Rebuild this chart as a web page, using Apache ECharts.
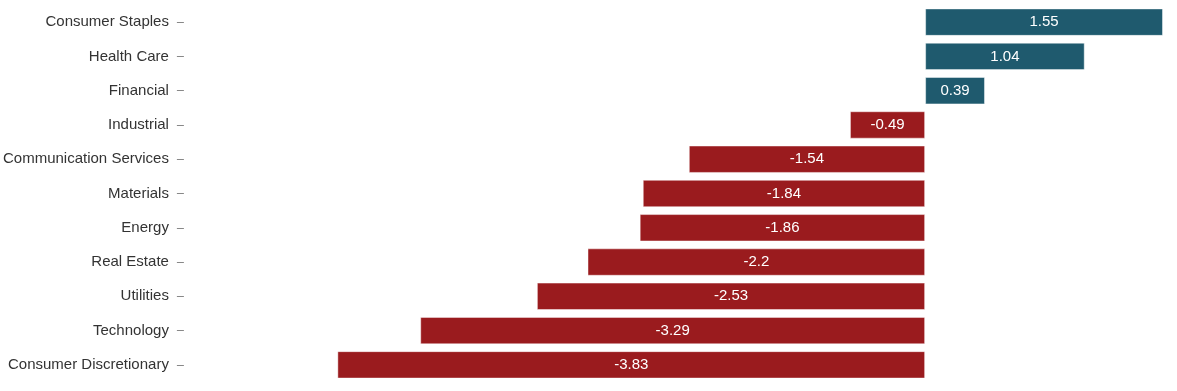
<!DOCTYPE html>
<html><head><meta charset="utf-8">
<script src="https://cdn.jsdelivr.net/npm/echarts@6/dist/echarts.min.js"></script>
<style>html,body{margin:0;padding:0;background:#fff}#c{width:1177px;height:391px}</style>
</head><body><div id="c"></div>
<script>
const categories = ["Consumer Staples","Health Care","Financial","Industrial","Communication Services","Materials","Energy","Real Estate","Utilities","Technology","Consumer Discretionary"];
const values = [1.55,1.04,0.39,-0.49,-1.54,-1.84,-1.86,-2.2,-2.53,-3.29,-3.83];
const posColor = "#1f5a6e", negColor = "#9a1b1e";
const chart = echarts.init(document.getElementById('c'));
chart.setOption({
  animation:false,
  grid:{left:182,right:14,top:5,bottom:9,containLabel:false},
  xAxis:{type:'value',min:-4.83,max:1.55,show:false},
  yAxis:{type:'category',data:categories,inverse:true,
    axisLine:{show:false,onZero:false},
    axisTick:{show:true,alignWithLabel:true,length:7,lineStyle:{color:'#888'}},
    axisLabel:{color:'#333',fontSize:15,fontFamily:'Liberation Sans, Arial, sans-serif',margin:15}},
  series:[{type:'bar',barCategoryGap:'20%',
    data:values.map(v=>({value:v,itemStyle:{color:v>=0?posColor:negColor}})),
    itemStyle:{borderColor:'rgba(255,255,255,0.45)',borderWidth:1},
    label:{show:true,position:'inside',color:'#fff',fontSize:15,fontFamily:'Liberation Sans, Arial, sans-serif'}}]
});
</script></body></html>
